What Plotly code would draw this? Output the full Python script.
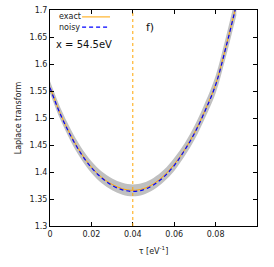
import plotly.graph_objects as go

# data
tau = [0.000, 0.005, 0.010, 0.015, 0.020, 0.025, 0.030, 0.035, 0.040, 0.045,
       0.050, 0.055, 0.060, 0.065, 0.070, 0.075, 0.080, 0.085, 0.090]
exact = [1.557, 1.508, 1.468, 1.435, 1.409, 1.390, 1.377, 1.369, 1.366, 1.369,
         1.378, 1.393, 1.414, 1.441, 1.474, 1.515, 1.562, 1.632, 1.710]
noisy = [1.556, 1.507, 1.467, 1.434, 1.408, 1.389, 1.375, 1.367, 1.364, 1.367,
         1.376, 1.391, 1.412, 1.440, 1.473, 1.514, 1.561, 1.631, 1.709]
band_halfwidth = [0.011, 0.011, 0.011, 0.011, 0.011, 0.011, 0.011, 0.011, 0.011, 0.011,
                  0.011, 0.011, 0.012, 0.012, 0.013, 0.014, 0.016, 0.018, 0.020]
tau_marker = 0.04
x_ticks = [0, 0.02, 0.04, 0.06, 0.08]
y_ticks = [1.3, 1.35, 1.4, 1.45, 1.5, 1.55, 1.6, 1.65, 1.7]

upper = [e + w for e, w in zip(exact, band_halfwidth)]
lower = [e - w for e, w in zip(exact, band_halfwidth)]

ORANGE = "#ffa500"
BLUE = "#0000ff"
FONT = "DejaVu Sans"

fig = go.Figure()
fig.add_trace(go.Scatter(x=tau, y=upper, mode="lines", line=dict(width=0, color="#bebebe"),
                         showlegend=False, hoverinfo="skip", line_shape="spline"))
fig.add_trace(go.Scatter(x=tau, y=lower, mode="lines", line=dict(width=0, color="#bebebe"),
                         fill="tonexty", fillcolor="#c0c0c0", showlegend=False,
                         hoverinfo="skip", line_shape="spline"))
fig.add_trace(go.Scatter(x=tau, y=exact, mode="lines", name="exact",
                         line=dict(color=ORANGE, width=1), line_shape="spline"))
fig.add_trace(go.Scatter(x=tau, y=noisy, mode="lines", name="noisy",
                         line=dict(color=BLUE, width=1.2, dash="4px,3px"), line_shape="spline"))

fig.add_vline(x=tau_marker, line=dict(color=ORANGE, width=1, dash="dot"))

# gnuplot-style legend (text then sample)
fig.add_annotation(x=0.034, y=0.968, xref="paper", yref="paper", text="exact", showarrow=False,
                   xanchor="left", yanchor="middle", font=dict(family=FONT, size=8, color="#222"))
fig.add_annotation(x=0.034, y=0.921, xref="paper", yref="paper", text="noisy", showarrow=False,
                   xanchor="left", yanchor="middle", font=dict(family=FONT, size=8, color="#222"))
fig.add_shape(type="line", xref="paper", yref="paper", x0=0.155, x1=0.29, y0=0.968, y1=0.968,
              line=dict(color=ORANGE, width=1))
fig.add_shape(type="line", xref="paper", yref="paper", x0=0.155, x1=0.29, y0=0.921, y1=0.921,
              line=dict(color=BLUE, width=1.2, dash="4px,3px"))
fig.add_annotation(x=0.02, y=0.838, xref="paper", yref="paper", text="x = 54.5eV", showarrow=False,
                   xanchor="left", yanchor="middle", font=dict(family=FONT, size=10, color="#111"))
fig.add_annotation(x=0.455, y=0.917, xref="paper", yref="paper", text="f)", showarrow=False,
                   xanchor="left", yanchor="middle", font=dict(family=FONT, size=11, color="#111"))

axis_common = dict(showgrid=False, zeroline=False, ticks="inside", ticklen=4, tickcolor="#000",
                   showline=True, linecolor="#000", linewidth=1, mirror="ticks", automargin=False,
                   tickfont=dict(family=FONT, size=8, color="#222"))
fig.update_xaxes(range=[0, 0.1], tickvals=x_ticks, ticktext=["0", "0.02", "0.04", "0.06", "0.08"],
                 title=dict(text="τ [eV<sup>-1</sup>]", font=dict(family=FONT, size=8, color="#222"),
                            standoff=10), **axis_common)
fig.update_yaxes(range=[1.3, 1.7], tickvals=y_ticks,
                 ticktext=["1.3", "1.35", "1.4", "1.45", "1.5", "1.55", "1.6", "1.65", "1.7"],
                 title=dict(text="Laplace transform", font=dict(family=FONT, size=8, color="#222"),
                            standoff=6), **axis_common)

fig.update_layout(width=274, height=267, margin=dict(l=50, r=17, t=10, b=41),
                  paper_bgcolor="white", plot_bgcolor="white", showlegend=False,
                  font=dict(family=FONT, size=8))

fig.write_html("out.html", config={"displayModeBar": False},
               post_script="document.body.style.margin='0px';")
